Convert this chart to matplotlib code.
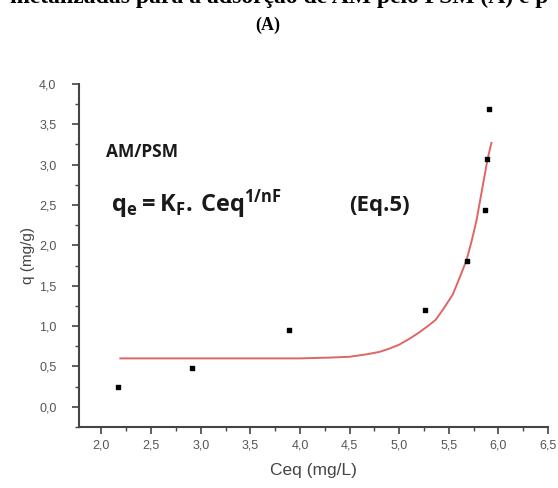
import matplotlib
matplotlib.use('Agg')
import matplotlib.pyplot as plt
from matplotlib.ticker import MultipleLocator, FuncFormatter

# dados experimentais AM/PSM
ceq = [2.17, 2.91, 3.89, 5.26, 5.68, 5.87, 5.89, 5.91]
q = [0.25, 0.48, 0.95, 1.20, 1.81, 2.44, 3.07, 3.69]

# curva ajustada
ceq_fit = [2.19, 2.6, 3.0, 3.5, 4.0, 4.3, 4.5, 4.67, 4.80, 4.90, 5.00, 5.10, 5.20,
           5.30, 5.37, 5.45, 5.54, 5.61, 5.68, 5.73, 5.78, 5.84, 5.89, 5.93]
q_fit = [0.60, 0.60, 0.60, 0.60, 0.60, 0.61, 0.62, 0.65, 0.68, 0.72, 0.77, 0.84, 0.92,
         1.01, 1.08, 1.22, 1.39, 1.60, 1.82, 2.05, 2.31, 2.72, 3.06, 3.27]

plt.rcParams['font.family'] = ['Liberation Sans', 'DejaVu Sans']
plt.rcParams['mathtext.fontset'] = 'custom'
plt.rcParams['mathtext.rm'] = 'Open Sans:bold'
plt.rcParams['mathtext.it'] = 'Open Sans:bold'
plt.rcParams['mathtext.bf'] = 'Open Sans:bold'

fig = plt.figure(figsize=(5.58, 4.88), dpi=100)
ax = fig.add_axes([0.141, 0.125, 0.841, 0.703])

ax.plot(ceq_fit, q_fit, color='#e06666', lw=1.4, zorder=2)
ax.scatter(ceq, q, marker='s', s=12, color='black', zorder=3)

ax.set_xlim(1.77, 6.5)
ax.set_ylim(-0.25, 4.0)
ax.xaxis.set_major_locator(MultipleLocator(0.5))
ax.xaxis.set_minor_locator(MultipleLocator(0.25))
ax.yaxis.set_major_locator(MultipleLocator(0.5))
ax.yaxis.set_minor_locator(MultipleLocator(0.25))
virgula = FuncFormatter(lambda v, p: f'{v:.1f}'.replace('.', ','))
ax.xaxis.set_major_formatter(virgula)
ax.yaxis.set_major_formatter(virgula)

for s in ['top', 'right']:
    ax.spines[s].set_visible(False)
for s in ['left', 'bottom']:
    ax.spines[s].set_color('#444444')
    ax.spines[s].set_linewidth(1.5)
ax.tick_params(which='major', length=5, width=1.2, color='#444444',
               labelsize=9, labelcolor='#555555', pad=4)
ax.tick_params(axis='y', which='major', pad=11)
ax.tick_params(which='minor', length=3, width=1.0, color='#444444')

ax.set_xlabel('Ceq (mg/L)', fontsize=12.5, color='#444444', labelpad=8)
ax.set_ylabel('q (mg/g)', fontsize=11, color='#444444', labelpad=3)

ax.text(2.05, 3.10, 'AM/PSM', fontsize=12.5, fontweight='bold',
        family='Open Sans', color='#1a1a1a')
ax.text(2.10, 2.42, r'$\mathrm{q_e = K_F.\,Ceq^{1/nF}}$', fontsize=17, color='#1a1a1a')
ax.text(4.5, 2.42, '(Eq.5)', fontsize=16, fontweight='bold',
        family='Open Sans', color='#1a1a1a')

fig.text(0.48, 0.939, '(A)', ha='center', va='baseline', fontsize=13,
         fontweight='bold', family='Liberation Serif')
fig.text(0.5, 0.993, 'metalizadas para a adsorção de AM pelo PSM (A) e p',
         ha='center', va='baseline', fontsize=17, fontweight='bold',
         family='Liberation Serif')

fig.savefig('out.png', dpi=100)
